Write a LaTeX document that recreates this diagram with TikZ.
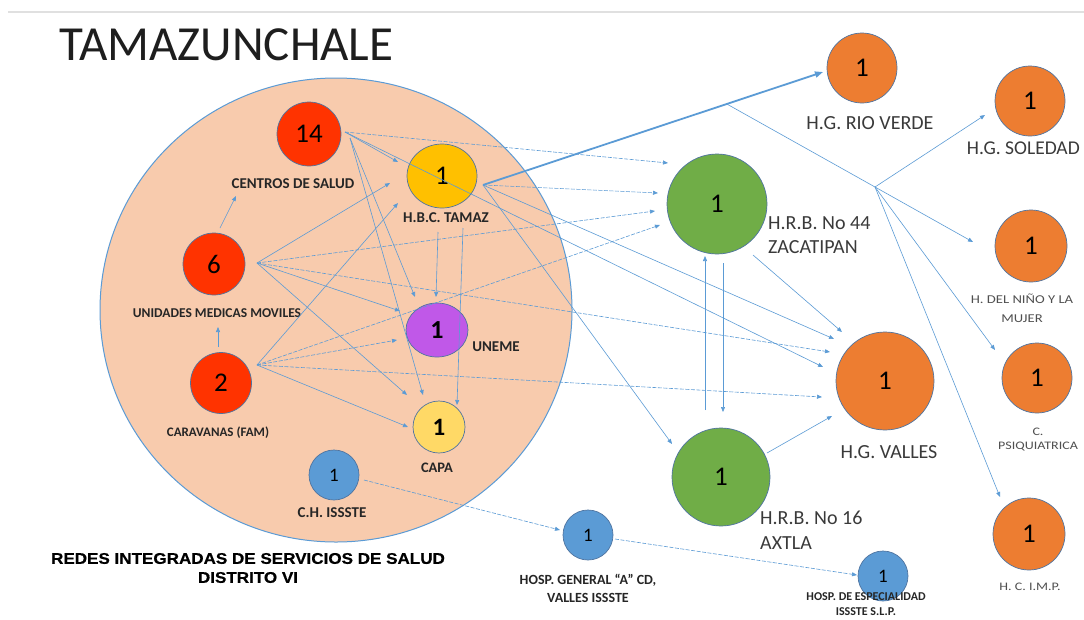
\documentclass[tikz,border=0pt]{standalone}
\usepackage{fontspec}
\setmainfont{Carlito}
\newfontfamily\arialfont[FakeStretch=1.1,FakeBold=0.6]{Liberation Sans}
\newfontfamily\widefont[FakeStretch=1.22]{Carlito}
\usetikzlibrary{arrows.meta,calc,shapes.geometric}

\definecolor{wirec}{HTML}{5B9BD5}
\definecolor{ringc}{HTML}{4F74A0}
\definecolor{peach}{HTML}{F8CBAD}
\definecolor{redn}{HTML}{FF3300}
\definecolor{goldn}{HTML}{FFC000}
\definecolor{purpn}{HTML}{C058E8}
\definecolor{capan}{HTML}{FFD966}
\definecolor{bluen}{HTML}{5B9BD5}
\definecolor{greenn}{HTML}{70AD47}
\definecolor{orangen}{HTML}{ED7D31}
\definecolor{lblc}{HTML}{262626}
\definecolor{dkgray}{HTML}{3A3A3A}
\definecolor{ltgray}{HTML}{505050}
\definecolor{titlec}{HTML}{1E1E1E}

\tikzset{
  ringnode/.style={circle, draw=ringc, line width=0.7pt, inner sep=0pt, text=black},
  ovalnode/.style={ellipse, draw=ringc, line width=0.7pt, inner sep=0pt, text=black},
  numtxt/.style={font=\fontsize{27}{27}\selectfont},
  boldlbl/.style={inner sep=0pt, text=lblc, align=center},
  hosplbl/.style={inner sep=0pt, text=dkgray, font=\fontsize{20}{24.5}\selectfont},
  smalllbl/.style={inner sep=0pt, text=ltgray, align=center},
  wire/.style={draw=wirec, line width=0.6pt, -{Triangle[length=5pt,width=4pt]}},
  dwire/.style={wire, dash pattern=on 4pt off 1.5pt},
}

\begin{document}
\begin{tikzpicture}[x=1pt,y=-1pt]
  \useasboundingbox (0,0) rectangle (1084,619);
  \fill[white] (0,0) rectangle (1084,619);
  \draw[black!12, line width=2pt] (8,12) -- (1084,12);

  % title and district area
  \node[anchor=west, inner sep=0pt, text=titlec, font=\fontsize{49}{49}\selectfont] (title) at (59,45) {TAMAZUNCHALE};
  \node[ellipse, fill=peach, draw=wirec, line width=1pt, minimum width=472pt, minimum height=464pt, inner sep=0pt] (district) at (336,310) {};

  % units inside the district
  \node[ringnode, numtxt, fill=redn, minimum size=64pt] (n14) at (309,134) {14};
  \node[ovalnode, numtxt, fill=goldn, minimum width=70pt, minimum height=64pt] (tam) at (442,176) {1};
  \node[ringnode, numtxt, fill=redn, minimum size=62pt] (n6) at (214,264) {6};
  \node[ovalnode, fill=purpn, minimum width=62pt, minimum height=54pt, font=\bfseries\fontsize{26}{26}\selectfont] (une) at (437,330) {1};
  \node[ringnode, numtxt, fill=redn, minimum size=61pt] (n2) at (221,383) {2};
  \node[ringnode, fill=capan, minimum size=52pt, font=\bfseries\fontsize{25}{25}\selectfont] (capa) at (439,427) {1};
  \node[ringnode, fill=bluen, minimum size=50pt, font=\fontsize{19}{19}\selectfont] (chi) at (334,475) {1};

  \node[boldlbl, font=\bfseries\fontsize{15}{15}\selectfont] (lcs) at (293,184) {CENTROS DE SALUD};
  \node[boldlbl, font=\bfseries\fontsize{15}{15}\selectfont] (ltam) at (446,218) {H.B.C. TAMAZ};
  \node[boldlbl, font=\bfseries\fontsize{13.5}{13.5}\selectfont] (lum) at (217,313) {UNIDADES MEDICAS MOVILES};
  \node[boldlbl, font=\bfseries\fontsize{15}{15}\selectfont] (lune) at (496,347) {UNEME};
  \node[boldlbl, font=\bfseries\fontsize{13}{13}\selectfont] (lcar) at (218,433) {CARAVANAS (FAM)};
  \node[boldlbl, font=\bfseries\fontsize{14.5}{14.5}\selectfont] (lcapa) at (437,468) {CAPA};
  \node[boldlbl, font=\bfseries\fontsize{15}{15}\selectfont] (lchi) at (332,513) {C.H. ISSSTE};

  \node[boldlbl, text=black, font=\arialfont\bfseries\fontsize{15.5}{19}\selectfont] (sub) at (248,568)
    {REDES INTEGRADAS DE SERVICIOS DE SALUD\\DISTRITO VI};

  % hospitals outside the district
  \node[ringnode, numtxt, fill=greenn, minimum size=100pt] (zac) at (717,204) {1};
  \node[ringnode, numtxt, fill=greenn, minimum size=98pt] (ax) at (721,477) {1};
  \node[ringnode, numtxt, fill=orangen, minimum size=98pt] (val) at (885,381) {1};
  \node[ringnode, numtxt, fill=orangen, minimum size=70pt] (rv) at (862,68) {1};
  \node[ringnode, numtxt, fill=orangen, minimum size=70pt] (sol) at (1030,101) {1};
  \node[ringnode, numtxt, fill=orangen, minimum size=72pt] (nino) at (1031,246) {1};
  \node[ringnode, numtxt, fill=orangen, minimum size=70pt] (psi) at (1037,378) {1};
  \node[ringnode, numtxt, fill=orangen, minimum size=72pt] (imp) at (1029,534) {1};
  \node[ringnode, fill=bluen, minimum size=50pt, font=\fontsize{19}{19}\selectfont] (hga) at (588,535) {1};
  \node[ringnode, fill=bluen, minimum size=50pt, font=\fontsize{19}{19}\selectfont] (hesp) at (883,576) {1};

  \node[hosplbl, anchor=west, align=left] (lzac) at (768,235) {H.R.B. No 44\\ZACATIPAN};
  \node[hosplbl, anchor=west, align=left] (lax) at (760,530) {H.R.B. No 16\\AXTLA};
  \node[hosplbl] (lval) at (889,452) {H.G. VALLES};
  \node[hosplbl] (lrv) at (870,123) {H.G. RIO VERDE};
  \node[hosplbl, anchor=east, font=\fontsize{19.5}{24}\selectfont] (lsol) at (1080,148) {H.G. SOLEDAD};
  \node[smalllbl, font=\widefont\fontsize{12}{19}\selectfont] (lnino) at (1022,308) {H. DEL NIÑO Y LA\\MUJER};
  \node[smalllbl, font=\widefont\fontsize{11.5}{14}\selectfont] (lpsi) at (1038,440) {C.\\PSIQUIATRICA};
  \node[smalllbl, font=\widefont\fontsize{11.5}{14}\selectfont] (limp) at (1030,587) {H. C. I.M.P.};
  \node[boldlbl, font=\bfseries\fontsize{14}{18}\selectfont] (lhga) at (588,588) {HOSP. GENERAL “A” CD,\\VALLES ISSSTE};
  \node[boldlbl, font=\bfseries\fontsize{12}{15}\selectfont] (lhesp) at (866,604) {HOSP. DE ESPECIALIDAD\\ISSSTE S.L.P.};

  % outgoing points of each unit
  \coordinate (h14) at ($(n14)+(36,-2)$);
  \coordinate (h14d) at ($(n14)+(41,4)$);
  \coordinate (h6) at ($(n6)+(43,-1)$);
  \coordinate (h2) at ($(n2)+(36,-18)$);
  \coordinate (hT) at ($(tam)+(41,9)$);

  % centros de salud
  \draw[wire] (h14) -- ($(tam)+(-44,-14)$);
  \draw[dwire] (h14) -- ($(zac)+(-49,-41)$);
  \draw[wire] (h14) -- ($(val)+(-62,-14)$);
  \draw[wire] (h14d) -- ($(une)+(-22,-33)$);
  \draw[wire] (h14d) -- ($(capa)+(-16,-32)$);

  % unidades medicas moviles
  \draw[wire] ($(n6)+(6,-36)$) -- ($(lcs)+(-57,12)$);
  \draw[wire] (h6) -- ($(tam)+(-52,7)$);
  \draw[dwire] (h6) -- ($(zac)+(-62,7)$);
  \draw[wire] (h6) -- ($(une)+(-37,-19)$);
  \draw[wire] (h6) -- ($(capa)+(-32,-32)$);
  \draw[dwire] (h6) -- ($(val)+(-55,-29)$);

  % caravanas
  \draw[wire] ($(n2)+(-3,-36)$) -- ($(lum)+(1,14)$);
  \draw[wire] (h2) -- ($(tam)+(-44,27)$);
  \draw[dwire] (h2) -- ($(une)+(-40,10)$);
  \draw[dwire] (h2) -- ($(zac)+(-57,21)$);
  \draw[wire] (h2) -- ($(capa)+(-31,0)$);
  \draw[dwire] (h2) -- ($(val)+(-63,16)$);

  % hospital basico comunitario
  \coordinate (rvIn) at ($(rv)+(-39,4)$);
  \draw[wire, line width=1.8pt, -{Triangle[length=8pt,width=6pt]}] (hT) -- (rvIn);
  \draw[dwire] (hT) -- ($(zac)+(-59,-11)$);
  \draw[wire] (hT) -- ($(val)+(-51,-42)$);
  \draw[wire] (hT) -- ($(ax)+(-49,-33)$);
  \draw[wire] ($(tam)+(-4,56)$) -- ($(une)+(-1,-33)$);
  \draw[wire] ($(tam)+(21,52)$) -- ($(capa)+(18,-22)$);

  % regional hospitals
  \draw[wire] ($(zac)+(6,59)$) -- ($(ax)+(2,-65)$);
  \draw[wire] ($(ax)+(-16,-67)$) -- ($(zac)+(-12,52)$);
  \draw[wire] ($(zac)+(36,51)$) -- ($(val)+(-43,-49)$);
  \draw[wire] ($(ax)+(46,-24)$) -- ($(val)+(-53,35)$);

  % referral branch to state hospitals
  \coordinate (br) at ($(hT)!0.717!(rvIn)$);
  \coordinate (jn) at (875,187);
  \draw[wire, -] (br) -- (jn);
  \draw[wire] (jn) -- ($(sol)+(-45,14)$);
  \draw[wire] (jn) -- ($(nino)+(-58,-4)$);
  \draw[wire] (jn) -- ($(psi)+(-42,-28)$);
  \draw[wire] (jn) -- ($(imp)+(-29,-37)$);

  % ISSSTE chain
  \draw[dwire] ($(chi)+(30,5)$) -- ($(hga)+(-28,-5)$);
  \draw[dwire] ($(hga)+(27,4)$) -- ($(hesp)+(-26,-1)$);
\end{tikzpicture}
\end{document}
